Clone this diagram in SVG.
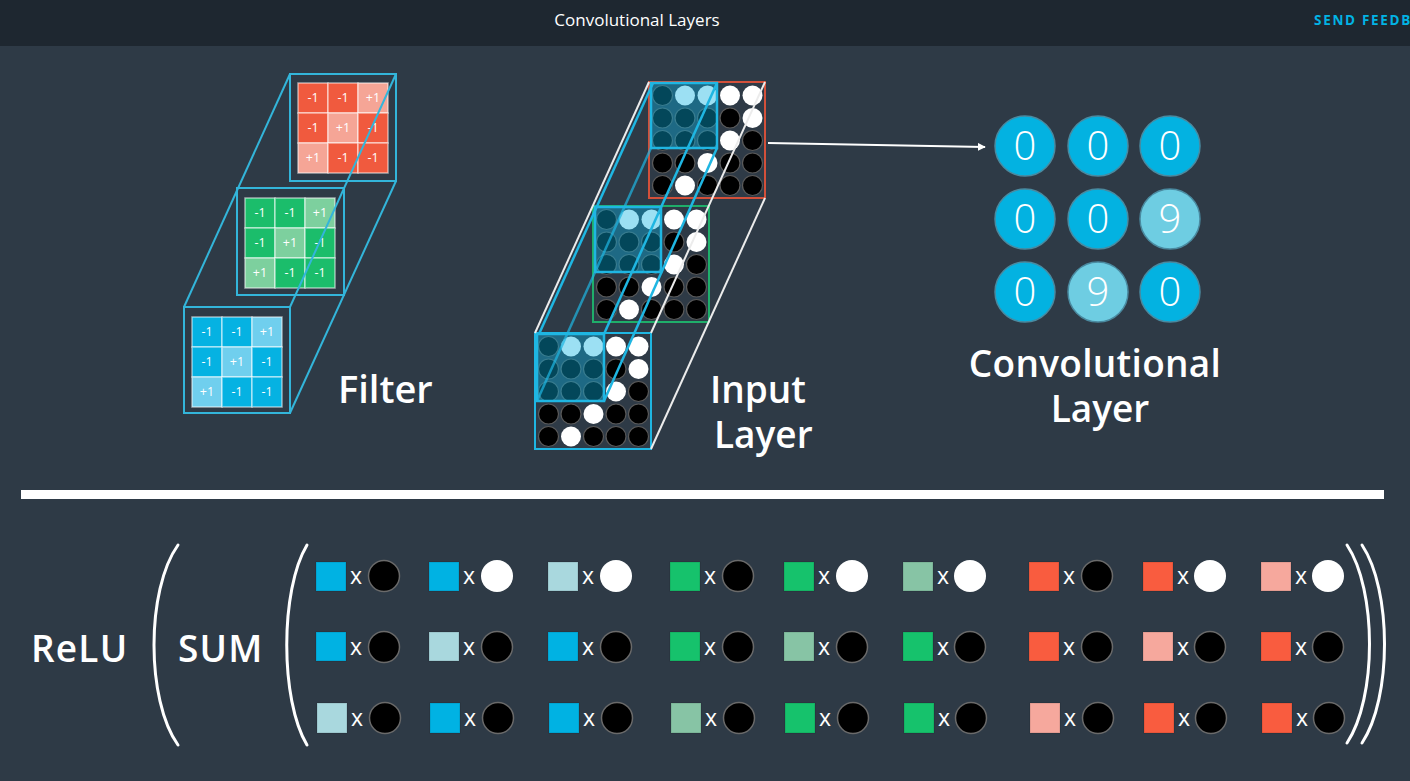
<svg xmlns="http://www.w3.org/2000/svg" width="1410" height="781" viewBox="0 0 1410 781">
<defs>
<style>
.bg{fill:#2e3a46}
.lbl{font-family:"Open Sans","Liberation Sans",sans-serif;font-weight:600;fill:#ffffff}
.ct{font-family:"Open Sans","Liberation Sans",sans-serif;font-size:12.5px;fill:#ffffff;text-anchor:middle}
.frame{fill:none;stroke:#33b5da;stroke-width:2}
.cell{stroke:rgba(255,255,255,0.55);stroke-width:1.5}
.rd{fill:#f05a3e}.rl{fill:#f5a596}
.gd{fill:#1bbd6b}.gl{fill:#7dd09e}
.bd{fill:#05b2e2}.bl{fill:#70cfee}
.blk{fill:#000;stroke:#5a5a5a;stroke-width:1.2}
.wht{fill:#fff}
.ov{fill:rgba(8,178,226,0.4);stroke:#1fb6e2;stroke-width:2.5}
.wl{stroke:#ececec;stroke-width:2;fill:none}
.cl{stroke:#1fb6e2;stroke-width:2.5;fill:none}
.cout{stroke:#4a8aa0;stroke-width:1.5}
.cnum{font-family:"Open Sans","Liberation Sans",sans-serif;font-weight:300;font-size:40px;fill:#fff;text-anchor:middle}
.sq{stroke:rgba(0,0,0,0.15);stroke-width:1}
.sb{fill:#00b2e3}.sbl{fill:#a9d8de}.sg{fill:#16c26c}.sgl{fill:#87c4a5}.sr{fill:#f95c3f}.srl{fill:#f6a89d}
.x{font-family:"Open Sans","Liberation Sans",sans-serif;font-size:23px;fill:#fff;text-anchor:middle}
.pc{fill:#000;stroke:#6a6a6a;stroke-width:1.5}
.pw{fill:#fff}
.par{fill:none;stroke:#fff;stroke-width:3;stroke-linecap:round}
</style>
<marker id="ah" viewBox="0 0 10 10" refX="9" refY="5" markerWidth="8" markerHeight="8" orient="auto" markerUnits="userSpaceOnUse">
<path d="M0,0 L10,5 L0,10 z" fill="#fff"/>
</marker>
</defs>
<rect class="bg" x="0" y="0" width="1410" height="781"/>
<g id="header">
<rect x="0" y="0" width="1410" height="46" fill="#1e2730"/>
<text x="637" y="26" text-anchor="middle" font-family="'Open Sans','Liberation Sans',sans-serif" font-size="17" fill="#fff">Convolutional Layers</text>
<text x="1314" y="25" font-family="'Open Sans','Liberation Sans',sans-serif" font-size="13.5" font-weight="700" letter-spacing="1.7" fill="#02b3e4">SEND FEEDB</text>
</g>

<g id="filter">
<rect class="frame" x="290" y="74" width="106" height="107"/>
<g id="filter-red">
<rect class="cell rd" x="298" y="83" width="30" height="30"/><rect class="cell rd" x="328" y="83" width="30" height="30"/><rect class="cell rl" x="358" y="83" width="30" height="30"/>
<rect class="cell rd" x="298" y="113" width="30" height="30"/><rect class="cell rl" x="328" y="113" width="30" height="30"/><rect class="cell rd" x="358" y="113" width="30" height="30"/>
<rect class="cell rl" x="298" y="143" width="30" height="30"/><rect class="cell rd" x="328" y="143" width="30" height="30"/><rect class="cell rd" x="358" y="143" width="30" height="30"/>
<text class="ct" x="313" y="102">-1</text><text class="ct" x="343" y="102">-1</text><text class="ct" x="373" y="102">+1</text>
<text class="ct" x="313" y="132">-1</text><text class="ct" x="343" y="132">+1</text><text class="ct" x="373" y="132">-1</text>
<text class="ct" x="313" y="162">+1</text><text class="ct" x="343" y="162">-1</text><text class="ct" x="373" y="162">-1</text>
</g>
<rect class="frame" x="237" y="188" width="107" height="107"/>
<g id="filter-green">
<rect class="cell gd" x="245" y="198" width="30" height="30"/><rect class="cell gd" x="275" y="198" width="30" height="30"/><rect class="cell gl" x="305" y="198" width="30" height="30"/>
<rect class="cell gd" x="245" y="228" width="30" height="30"/><rect class="cell gl" x="275" y="228" width="30" height="30"/><rect class="cell gd" x="305" y="228" width="30" height="30"/>
<rect class="cell gl" x="245" y="258" width="30" height="30"/><rect class="cell gd" x="275" y="258" width="30" height="30"/><rect class="cell gd" x="305" y="258" width="30" height="30"/>
<text class="ct" x="260" y="217">-1</text><text class="ct" x="290" y="217">-1</text><text class="ct" x="320" y="217">+1</text>
<text class="ct" x="260" y="247">-1</text><text class="ct" x="290" y="247">+1</text><text class="ct" x="320" y="247">-1</text>
<text class="ct" x="260" y="277">+1</text><text class="ct" x="290" y="277">-1</text><text class="ct" x="320" y="277">-1</text>
</g>
<rect class="frame" x="184" y="307" width="106" height="106"/>
<g id="filter-blue">
<rect class="cell bd" x="192" y="317" width="30" height="30"/><rect class="cell bd" x="222" y="317" width="30" height="30"/><rect class="cell bl" x="252" y="317" width="30" height="30"/>
<rect class="cell bd" x="192" y="347" width="30" height="30"/><rect class="cell bl" x="222" y="347" width="30" height="30"/><rect class="cell bd" x="252" y="347" width="30" height="30"/>
<rect class="cell bl" x="192" y="377" width="30" height="30"/><rect class="cell bd" x="222" y="377" width="30" height="30"/><rect class="cell bd" x="252" y="377" width="30" height="30"/>
<text class="ct" x="207" y="336">-1</text><text class="ct" x="237" y="336">-1</text><text class="ct" x="267" y="336">+1</text>
<text class="ct" x="207" y="366">-1</text><text class="ct" x="237" y="366">+1</text><text class="ct" x="267" y="366">-1</text>
<text class="ct" x="207" y="396">+1</text><text class="ct" x="237" y="396">-1</text><text class="ct" x="267" y="396">-1</text>
</g>
<line class="frame" x1="184" y1="307" x2="290" y2="74"/>
<line class="frame" x1="290" y1="307" x2="396" y2="74"/>
<line class="frame" x1="290" y1="413" x2="396" y2="181"/>
<text class="lbl" x="338" y="403" font-size="38">Filter</text>
</g>

<g id="input-red">
<rect x="649" y="82" width="116" height="116" fill="none" stroke="#d3503a" stroke-width="2"/>
<g>
<circle class="blk" cx="662.5" cy="95.5" r="10"/><circle class="wht" cx="685" cy="95.5" r="10"/><circle class="wht" cx="707.5" cy="95.5" r="10"/><circle class="wht" cx="730" cy="95.5" r="10"/><circle class="wht" cx="752.5" cy="95.5" r="10"/>
<circle class="blk" cx="662.5" cy="118" r="10"/><circle class="blk" cx="685" cy="118" r="10"/><circle class="blk" cx="707.5" cy="118" r="10"/><circle class="blk" cx="730" cy="118" r="10"/><circle class="wht" cx="752.5" cy="118" r="10"/>
<circle class="blk" cx="662.5" cy="140.5" r="10"/><circle class="blk" cx="685" cy="140.5" r="10"/><circle class="blk" cx="707.5" cy="140.5" r="10"/><circle class="wht" cx="730" cy="140.5" r="10"/><circle class="blk" cx="752.5" cy="140.5" r="10"/>
<circle class="blk" cx="662.5" cy="163" r="10"/><circle class="blk" cx="685" cy="163" r="10"/><circle class="wht" cx="707.5" cy="163" r="10"/><circle class="blk" cx="730" cy="163" r="10"/><circle class="blk" cx="752.5" cy="163" r="10"/>
<circle class="blk" cx="662.5" cy="185.5" r="10"/><circle class="wht" cx="685" cy="185.5" r="10"/><circle class="blk" cx="707.5" cy="185.5" r="10"/><circle class="blk" cx="730" cy="185.5" r="10"/><circle class="blk" cx="752.5" cy="185.5" r="10"/>
</g>
<rect class="ov" x="651" y="83" width="66" height="65"/>
</g>

<g id="input-green">
<rect x="593" y="206" width="116" height="116" fill="none" stroke="#1fae6a" stroke-width="2"/>
<g>
<circle class="blk" cx="606.5" cy="219.5" r="10"/><circle class="wht" cx="629" cy="219.5" r="10"/><circle class="wht" cx="651.5" cy="219.5" r="10"/><circle class="wht" cx="674" cy="219.5" r="10"/><circle class="wht" cx="696.5" cy="219.5" r="10"/>
<circle class="blk" cx="606.5" cy="242" r="10"/><circle class="blk" cx="629" cy="242" r="10"/><circle class="blk" cx="651.5" cy="242" r="10"/><circle class="blk" cx="674" cy="242" r="10"/><circle class="wht" cx="696.5" cy="242" r="10"/>
<circle class="blk" cx="606.5" cy="264.5" r="10"/><circle class="blk" cx="629" cy="264.5" r="10"/><circle class="blk" cx="651.5" cy="264.5" r="10"/><circle class="wht" cx="674" cy="264.5" r="10"/><circle class="blk" cx="696.5" cy="264.5" r="10"/>
<circle class="blk" cx="606.5" cy="287" r="10"/><circle class="blk" cx="629" cy="287" r="10"/><circle class="wht" cx="651.5" cy="287" r="10"/><circle class="blk" cx="674" cy="287" r="10"/><circle class="blk" cx="696.5" cy="287" r="10"/>
<circle class="blk" cx="606.5" cy="309.5" r="10"/><circle class="wht" cx="629" cy="309.5" r="10"/><circle class="blk" cx="651.5" cy="309.5" r="10"/><circle class="blk" cx="674" cy="309.5" r="10"/><circle class="blk" cx="696.5" cy="309.5" r="10"/>
</g>
<rect class="ov" x="595" y="207" width="66" height="65"/>
</g>

<g id="input-blue">
<rect x="535" y="333" width="116" height="116" fill="none" stroke="#1fb6e2" stroke-width="2"/>
<g>
<circle class="blk" cx="548.5" cy="346.5" r="10"/><circle class="wht" cx="571" cy="346.5" r="10"/><circle class="wht" cx="593.5" cy="346.5" r="10"/><circle class="wht" cx="616" cy="346.5" r="10"/><circle class="wht" cx="638.5" cy="346.5" r="10"/>
<circle class="blk" cx="548.5" cy="369" r="10"/><circle class="blk" cx="571" cy="369" r="10"/><circle class="blk" cx="593.5" cy="369" r="10"/><circle class="blk" cx="616" cy="369" r="10"/><circle class="wht" cx="638.5" cy="369" r="10"/>
<circle class="blk" cx="548.5" cy="391.5" r="10"/><circle class="blk" cx="571" cy="391.5" r="10"/><circle class="blk" cx="593.5" cy="391.5" r="10"/><circle class="wht" cx="616" cy="391.5" r="10"/><circle class="blk" cx="638.5" cy="391.5" r="10"/>
<circle class="blk" cx="548.5" cy="414" r="10"/><circle class="blk" cx="571" cy="414" r="10"/><circle class="wht" cx="593.5" cy="414" r="10"/><circle class="blk" cx="616" cy="414" r="10"/><circle class="blk" cx="638.5" cy="414" r="10"/>
<circle class="blk" cx="548.5" cy="436.5" r="10"/><circle class="wht" cx="571" cy="436.5" r="10"/><circle class="blk" cx="593.5" cy="436.5" r="10"/><circle class="blk" cx="616" cy="436.5" r="10"/><circle class="blk" cx="638.5" cy="436.5" r="10"/>
</g>
<rect class="ov" x="537" y="334" width="67" height="67"/>
</g>

<g id="connectors">
<line class="wl" x1="535" y1="333" x2="649" y2="82"/>
<line class="wl" x1="651" y1="333" x2="765" y2="82"/>
<line class="wl" x1="651" y1="449" x2="765" y2="198"/>
<line class="cl" x1="539" y1="334" x2="653" y2="83"/>
<line class="cl" x1="604" y1="334" x2="717" y2="83"/>
<line class="cl" x1="604" y1="401" x2="717" y2="148"/>
<line class="cl" x1="537" y1="401" x2="651" y2="148" stroke-width="1.2" opacity="0.7"/>
<line x1="768" y1="143" x2="985" y2="147" stroke="#fff" stroke-width="2" marker-end="url(#ah)"/>
</g>
<text class="lbl" x="710" y="403" font-size="37">Input</text>
<text class="lbl" x="714" y="448" font-size="37">Layer</text>

<g id="conv-layer">
<circle class="cout" cx="1025" cy="146" r="30" fill="#03b2e1"/>
<circle class="cout" cx="1098" cy="146" r="30" fill="#03b2e1"/>
<circle class="cout" cx="1170" cy="146" r="30" fill="#03b2e1"/>
<circle class="cout" cx="1025" cy="219" r="30" fill="#03b2e1"/>
<circle class="cout" cx="1098" cy="219" r="30" fill="#03b2e1"/>
<circle class="cout" cx="1170" cy="219" r="30" fill="#6ecde2"/>
<circle class="cout" cx="1025" cy="292" r="30" fill="#03b2e1"/>
<circle class="cout" cx="1098" cy="292" r="30" fill="#6ecde2"/>
<circle class="cout" cx="1170" cy="292" r="30" fill="#03b2e1"/>
<text class="cnum" x="1025" y="160">0</text><text class="cnum" x="1098" y="160">0</text><text class="cnum" x="1170" y="160">0</text>
<text class="cnum" x="1025" y="233">0</text><text class="cnum" x="1098" y="233">0</text><text class="cnum" x="1170" y="233">9</text>
<text class="cnum" x="1025" y="306">0</text><text class="cnum" x="1098" y="306">9</text><text class="cnum" x="1170" y="306">0</text>
<text class="lbl" x="1095" y="377" font-size="37" letter-spacing="0.3" text-anchor="middle">Convolutional</text>
<text class="lbl" x="1100" y="422" font-size="37" text-anchor="middle">Layer</text>
</g>

<rect id="divider" x="21" y="490" width="1363" height="9" fill="#fff"/>

<g id="formula">
<text class="lbl" x="31" y="662" font-size="37" letter-spacing="1.2">ReLU</text>
<path class="par" d="M178,545 C146,590 146,700 178,745"/>
<text class="lbl" x="178" y="662" font-size="37" letter-spacing="1.2">SUM</text>
<path class="par" d="M307,545 C280,590 280,700 307,745"/>
<path class="par" d="M1347,545 C1377,590 1377,698 1347,743"/>
<path class="par" d="M1362,545 C1392,590 1392,698 1362,743"/>
</g>

<g id="products">
<g id="row1">
<rect class="sq sb" x="316" y="562" width="30" height="29"/><text class="x" x="356" y="584">x</text><circle class="pc" cx="384" cy="576" r="15.5"/>
<rect class="sq sb" x="429" y="562" width="30" height="29"/><text class="x" x="469" y="584">x</text><circle class="pw" cx="497" cy="576" r="16"/>
<rect class="sq sbl" x="548" y="562" width="30" height="29"/><text class="x" x="588" y="584">x</text><circle class="pw" cx="616" cy="576" r="16"/>
<rect class="sq sg" x="670" y="562" width="30" height="29"/><text class="x" x="710" y="584">x</text><circle class="pc" cx="738" cy="576" r="15.5"/>
<rect class="sq sg" x="784" y="562" width="30" height="29"/><text class="x" x="824" y="584">x</text><circle class="pw" cx="852" cy="576" r="16"/>
<rect class="sq sgl" x="903" y="562" width="30" height="29"/><text class="x" x="943" y="584">x</text><circle class="pw" cx="970" cy="576" r="16"/>
<rect class="sq sr" x="1029" y="562" width="30" height="29"/><text class="x" x="1069" y="584">x</text><circle class="pc" cx="1097" cy="576" r="15.5"/>
<rect class="sq sr" x="1143" y="562" width="30" height="29"/><text class="x" x="1183" y="584">x</text><circle class="pw" cx="1210" cy="576" r="16"/>
<rect class="sq srl" x="1261" y="562" width="30" height="29"/><text class="x" x="1301" y="584">x</text><circle class="pw" cx="1328" cy="576" r="16"/>
</g>
<g id="row2">
<rect class="sq sb" x="316" y="632" width="30" height="29"/><text class="x" x="356" y="655">x</text><circle class="pc" cx="384" cy="647" r="15.5"/>
<rect class="sq sbl" x="429" y="632" width="30" height="29"/><text class="x" x="469" y="655">x</text><circle class="pc" cx="497" cy="647" r="15.5"/>
<rect class="sq sb" x="548" y="632" width="30" height="29"/><text class="x" x="588" y="655">x</text><circle class="pc" cx="616" cy="647" r="15.5"/>
<rect class="sq sg" x="670" y="632" width="30" height="29"/><text class="x" x="710" y="655">x</text><circle class="pc" cx="738" cy="647" r="15.5"/>
<rect class="sq sgl" x="784" y="632" width="30" height="29"/><text class="x" x="824" y="655">x</text><circle class="pc" cx="852" cy="647" r="15.5"/>
<rect class="sq sg" x="903" y="632" width="30" height="29"/><text class="x" x="943" y="655">x</text><circle class="pc" cx="970" cy="647" r="15.5"/>
<rect class="sq sr" x="1029" y="632" width="30" height="29"/><text class="x" x="1069" y="655">x</text><circle class="pc" cx="1097" cy="647" r="15.5"/>
<rect class="sq srl" x="1143" y="632" width="30" height="29"/><text class="x" x="1183" y="655">x</text><circle class="pc" cx="1210" cy="647" r="15.5"/>
<rect class="sq sr" x="1261" y="632" width="30" height="29"/><text class="x" x="1301" y="655">x</text><circle class="pc" cx="1328" cy="647" r="15.5"/>
</g>
<g id="row3">
<rect class="sq sbl" x="317" y="703" width="30" height="30"/><text class="x" x="357" y="726">x</text><circle class="pc" cx="385" cy="718" r="15.5"/>
<rect class="sq sb" x="430" y="703" width="30" height="30"/><text class="x" x="470" y="726">x</text><circle class="pc" cx="498" cy="718" r="15.5"/>
<rect class="sq sb" x="549" y="703" width="30" height="30"/><text class="x" x="589" y="726">x</text><circle class="pc" cx="617" cy="718" r="15.5"/>
<rect class="sq sgl" x="671" y="703" width="30" height="30"/><text class="x" x="711" y="726">x</text><circle class="pc" cx="739" cy="718" r="15.5"/>
<rect class="sq sg" x="785" y="703" width="30" height="30"/><text class="x" x="825" y="726">x</text><circle class="pc" cx="853" cy="718" r="15.5"/>
<rect class="sq sg" x="904" y="703" width="30" height="30"/><text class="x" x="944" y="726">x</text><circle class="pc" cx="971" cy="718" r="15.5"/>
<rect class="sq srl" x="1030" y="703" width="30" height="30"/><text class="x" x="1070" y="726">x</text><circle class="pc" cx="1098" cy="718" r="15.5"/>
<rect class="sq sr" x="1144" y="703" width="30" height="30"/><text class="x" x="1184" y="726">x</text><circle class="pc" cx="1211" cy="718" r="15.5"/>
<rect class="sq sr" x="1262" y="703" width="30" height="30"/><text class="x" x="1302" y="726">x</text><circle class="pc" cx="1329" cy="718" r="15.5"/>
</g>
</g>
</svg>
